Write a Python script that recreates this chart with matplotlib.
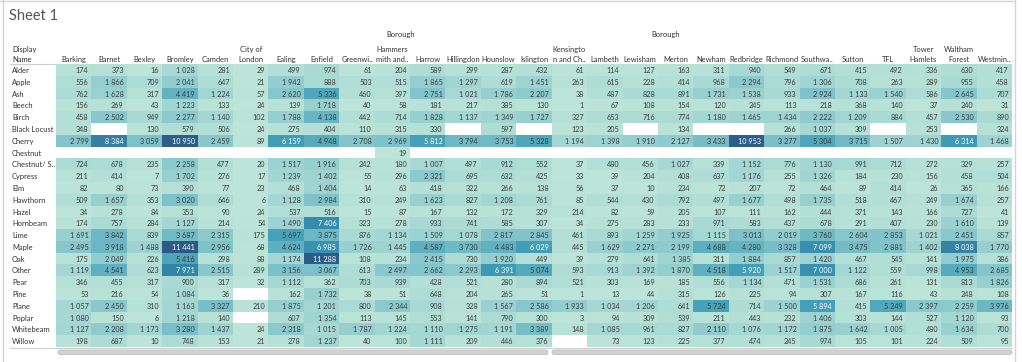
import numpy as np
import matplotlib
matplotlib.use('Agg')
import matplotlib.pyplot as plt
from matplotlib.colors import LinearSegmentedColormap, Normalize
from matplotlib.patches import FancyBboxPatch

plt.rcParams['font.family'] = ['Lato', 'DejaVu Sans']

boroughs = ["Barking", "Barnet", "Bexley", "Bromley", "Camden", "City of\nLondon", "Ealing",
            "Enfield", "Greenwi..", "Hammers\nmith and..", "Harrow", "Hillingdon", "Hounslow",
            "Islington", "Kensingto\nn and Ch..", "Lambeth", "Lewisham", "Merton", "Newham",
            "Redbridge", "Richmond", "Southwa..", "Sutton", "TFL", "Tower\nHamlets",
            "Waltham\nForest", "Westmin.."]

species = ["Alder", "Apple", "Ash", "Beech", "Birch", "Black Locust", "Cherry", "Chestnut",
           "Chestnut/ S..", "Cypress", "Elm", "Hawthorn", "Hazel", "Hornbeam", "Lime", "Maple",
           "Oak", "Other", "Pear", "Pine", "Plane", "Poplar", "Whitebeam", "Willow"]

N = None
alder = [174, 373, 16, 1028, 281, 29, 499, 974, 61, 204, 589, 299, 287, 432, 61, 114, 127, 163, 311, 940, 549, 671, 415, 492, 336, 630, 417]
apple = [556, 1866, 709, 2041, 647, 21, 1942, 888, 503, 515, 1865, 1297, 619, 1451, 263, 615, 228, 414, 968, 2294, 796, 1306, 708, 263, 289, 955, 458]
ash = [762, 1628, 317, 4419, 1224, 57, 2620, 5336, 460, 397, 2751, 1021, 1786, 2207, 38, 487, 828, 891, 1731, 1538, 933, 2924, 1133, 1540, 586, 2645, 707]
beech = [156, 269, 43, 1223, 133, 24, 139, 1718, 40, 58, 181, 217, 385, 130, 1, 67, 108, 154, 120, 245, 113, 218, 368, 140, 37, 240, 31]
birch = [458, 2502, 949, 2277, 1140, 102, 1788, 4138, 442, 714, 1828, 1137, 1349, 1727, 327, 653, 716, 774, 1180, 1465, 1434, 2222, 1209, 884, 457, 2530, 890]
black_locust = [348, N, 130, 579, 506, 24, 275, 404, 110, 315, 330, N, 597, N, 123, 205, N, 134, N, N, 266, 1037, 309, N, 253, N, 324]
cherry = [2799, 8384, 3059, 10950, 2459, 89, 6159, 4948, 2708, 2969, 5812, 3794, 3753, 5328, 1194, 1398, 1910, 2127, 3433, 10953, 3277, 5304, 3715, 1507, 1430, 6314, 1468]
chestnut = [N, N, N, N, N, N, N, N, N, 19, N, N, N, N, N, N, N, N, N, N, N, N, N, N, N, N, N]
chestnut_s = [724, 678, 235, 2258, 477, 20, 1517, 1916, 242, 180, 1007, 497, 912, 552, 37, 480, 456, 1027, 339, 1152, 776, 1130, 991, 712, 272, 329, 257]
cypress = [211, 414, 7, 1702, 276, 17, 1239, 1402, 55, 296, 2321, 695, 632, 425, 33, 39, 204, 408, 637, 1176, 255, 1326, 184, 230, 156, 458, 504]
elm = [82, 80, 73, 390, 77, 23, 468, 1404, 14, 63, 418, 322, 266, 138, 56, 37, 10, 234, 72, 207, 72, 464, 89, 414, 26, 365, 166]
hawthorn = [509, 1657, 353, 3020, 646, 6, 1128, 2984, 310, 249, 1623, 827, 1208, 761, 85, 544, 430, 792, 497, 1677, 498, 1735, 518, 467, 249, 1674, 257]
hazel = [34, 278, 84, 353, 90, 24, 537, 516, 15, 87, 167, 132, 172, 329, 214, 82, 59, 205, 107, 111, 162, 444, 371, 143, 166, 727, 41]
hornbeam = [174, 757, 284, 1127, 214, 54, 1490, 7406, 323, 278, 933, 741, 585, 307, 34, 275, 283, 233, 971, 583, 437, 678, 291, 407, 230, 1610, 139]
lime = [1691, 3842, 839, 3687, 2315, 175, 5697, 3875, 876, 1134, 1509, 1078, 2817, 2845, 461, 893, 1259, 1925, 1115, 3013, 2019, 3760, 2604, 2853, 1021, 2451, 857]
maple = [2495, 3918, 1488, 11441, 2956, 68, 4624, 6985, 1726, 1445, 4587, 3730, 4483, 6029, 445, 1629, 2271, 2199, 4688, 4280, 3328, 7099, 3475, 2881, 1402, 8038, 1770]
oak = [175, 2049, 226, 5416, 298, 88, 1174, 11288, 108, 234, 2415, 730, 1920, 449, 39, 279, 641, 1385, 311, 1884, 857, 1420, 467, 545, 141, 1975, 386]
other = [1119, 4541, 623, 7971, 2515, 289, 3156, 3067, 613, 2497, 2662, 2293, 6391, 5074, 593, 913, 1392, 1870, 4518, 5920, 1517, 7000, 1122, 559, 998, 4953, 2685]
pear = [346, 455, 317, 900, 317, 32, 1112, 362, 703, 939, 428, 521, 280, 894, 521, 303, 169, 185, 556, 1134, 471, 1531, 686, 261, 131, 813, 1826]
pine = [53, 216, 54, 1084, 36, N, 162, 1732, 38, 51, 648, 204, 265, 51, 1, 13, 44, 315, 126, 225, 94, 307, 167, 116, 43, 248, 108]
plane = [1057, 2450, 310, 1163, 3327, 210, 1875, 1201, 800, 2344, 908, 328, 1567, 2586, 1933, 1034, 1206, 641, 5724, 714, 1500, 5894, 415, 5249, 2397, 2259, 3976]
poplar = [1080, 150, 6, 1218, 140, N, 607, 1354, 113, 145, 553, 141, 790, 300, 3, 94, 309, 539, 211, 443, 232, 1406, 303, 144, 527, 1120, 93]
whitebeam = [1127, 2208, 1173, 3280, 1437, 24, 2318, 1015, 1787, 1224, 1110, 1275, 1191, 3389, 148, 1085, 961, 827, 2110, 1076, 1172, 1875, 1642, 1005, 480, 1634, 700]
willow = [198, 687, 10, 748, 153, 21, 278, 1237, 40, 100, 1111, 209, 446, 376, N, 73, 123, 225, 377, 474, 245, 974, 105, 101, 224, 509, 95]

rows = [alder, apple, ash, beech, birch, black_locust, cherry, chestnut, chestnut_s, cypress,
        elm, hawthorn, hazel, hornbeam, lime, maple, oak, other, pear, pine, plane, poplar,
        whitebeam, willow]

arr = np.array([[np.nan if v is None else v for v in r] for r in rows], dtype=float)
nrows, ncols = arr.shape

blue_teal = ['#bce4d8', '#9dd3d1', '#81c3cb', '#65b3c2', '#45a2b9',
             '#368fae', '#347da0', '#306a93', '#2c5985']
cmap = LinearSegmentedColormap.from_list('blue_teal', blue_teal)
norm = Normalize(vmin=np.nanmin(arr), vmax=np.nanmax(arr))

W, H = 1022, 362
fig = plt.figure(figsize=(W / 100, H / 100), dpi=100)
fig.patch.set_facecolor('white')

ov = fig.add_axes([0, 0, 1, 1], zorder=0)
ov.set_xlim(0, W)
ov.set_ylim(H, 0)
ov.axis('off')

left, right, top, bottom = 56, 1012, 64.1, 347
ax = fig.add_axes([left / W, (H - bottom) / H, (right - left) / W, (bottom - top) / H], zorder=1)
ax.pcolormesh(np.ma.masked_invalid(arr), cmap=cmap, norm=norm)
ax.set_xlim(0, ncols)
ax.set_ylim(nrows, 0)
ax.axis('off')

colw = (right - left) / ncols
rowh = (bottom - top) / nrows

VFS = 5.2
LFS = 5.4
TXT = '#333333'


def fmt(v):
    return f"{int(v):,}".replace(',', ' ')


for i in range(nrows):
    for j in range(ncols):
        v = arr[i, j]
        if np.isnan(v):
            continue
        col = 'white' if v > 5750 else '#3a3a3a'
        ax.text(j + 1 - 3 / colw, i + 0.55, fmt(v), ha='right', va='center',
                fontsize=VFS, color=col)

hdr_y2 = -(top - 59) / rowh
hdr_y1 = -(top - 49) / rowh
for j, lab in enumerate(boroughs):
    parts = lab.split('\n')
    if len(parts) == 2:
        ax.text(j + 0.5, hdr_y1, parts[0], ha='center', va='center', fontsize=LFS,
                color=TXT, clip_on=False)
        ax.text(j + 0.5, hdr_y2, parts[1], ha='center', va='center', fontsize=LFS,
                color=TXT, clip_on=False)
    else:
        ax.text(j + 0.5, hdr_y2, lab, ha='center', va='center', fontsize=LFS,
                color=TXT, clip_on=False)

lx = (12 - left) / colw
ax.text(lx, hdr_y1, "Display", ha='left', va='center', fontsize=LFS, color=TXT, clip_on=False)
ax.text(lx, hdr_y2, "Name", ha='left', va='center', fontsize=LFS, color=TXT, clip_on=False)
for i, name in enumerate(species):
    ax.text(lx, i + 0.55, name, ha='left', va='center', fontsize=LFS,
            color=TXT, clip_on=False)

by = -(top - 34) / rowh
for bx in [(401 - left) / colw, (666 - left) / colw]:
    ax.text(bx, by, "Borough", ha='center', va='center', fontsize=LFS,
            color=TXT, clip_on=False)

ov.text(9, 16, "Sheet 1", ha='left', va='center', fontsize=10.5, color='#555555')

ov.plot([0, 1015], [0.8, 0.8], color='#d4d4d4', lw=1)
ov.plot([2.5, 2.5], [0, H], color='#d4d4d4', lw=1)
ov.plot([1015, 1015], [0, H], color='#d4d4d4', lw=1)
ov.plot([10, 56], [64, 64], color='#cfcfcf', lw=0.8)
ov.plot([10, 1012], [347.5, 347.5], color='#cfcfcf', lw=0.8)

for x0, x1 in [(58, 548), (552, 1012)]:
    ov.add_patch(FancyBboxPatch((x0, 350), x1 - x0, 4.5,
                                boxstyle='round,pad=0,rounding_size=2.2',
                                facecolor='#d2d2d2', edgecolor='#c0c0c0', lw=0.6))

fig.savefig('out.png', dpi=100)
